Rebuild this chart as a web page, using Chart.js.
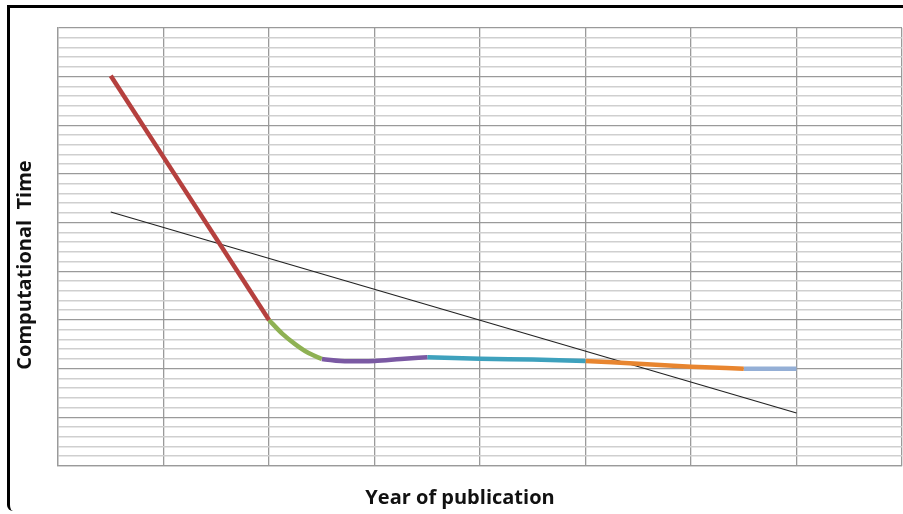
<!DOCTYPE html>
<html>
  <head>
    <meta charset="utf-8">
    <title>Computational Time by Year of publication</title>
    <script src="https://cdn.jsdelivr.net/npm/chart.js"></script>
    <style>
      html, body {
        margin: 0;
        padding: 0;
        background: #fff;
      }
      #frame {
        position: absolute;
        left: 7px;
        top: 4.5px;
        width: 896px;
        height: 503px;
        border-top: 3px solid #000;
        border-left: 3.5px solid #000;
        border-bottom-left-radius: 6px;
      }
      #wrap {
        position: absolute;
        left: 0;
        top: 0;
        width: 903px;
        height: 514px;
      }
    </style>
  </head>
  <body>
    <div id="frame"></div>
    <div id="wrap"><canvas id="timeChart"></canvas></div>
    <script>
      // x = position along the publication axis, y = computational time (grid units)
      const redX = [0.5, 2];
      const redY = [40.1, 15.0];
      const greenX = [2, 2.125, 2.25, 2.375, 2.5];
      const greenY = [15.0, 13.6, 12.5, 11.6, 11.0];
      const purpleX = [2.5, 2.75, 3, 3.25, 3.5];
      const purpleY = [11.0, 10.75, 10.8, 11.0, 11.18];
      const tealX = [3.5, 4, 4.5, 5];
      const tealY = [11.18, 11.03, 10.93, 10.8];
      const orangeX = [5, 5.5, 6, 6.5];
      const orangeY = [10.8, 10.5, 10.2, 10.0];
      const blueX = [6.5, 7];
      const blueY = [10.0, 10.0];
      const trendX = [0.5, 7];
      const trendY = [26.1, 5.45];

      const xTitle = 'Year of publication';
      const yTitle = 'Computational  Time';

      function pts(xs, ys) {
        return xs.map((x, i) => ({x: x, y: ys[i]}));
      }

      function segment(xs, ys, color) {
        return {
          data: pts(xs, ys),
          borderColor: color,
          borderWidth: 4.5,
          pointRadius: 0,
          cubicInterpolationMode: 'monotone',
          borderCapStyle: 'butt'
        };
      }

      // axis titles sit a little off-centre in the original, so draw them by hand
      const axisTitles = {
        id: 'axisTitles',
        afterDraw(chart) {
          const c = chart.ctx;
          c.save();
          c.fillStyle = '#111';
          c.font = 'bold 20px "Open Sans"';
          c.textAlign = 'center';
          c.textBaseline = 'middle';
          c.fillText(xTitle, 460, 498);
          c.translate(25, 265);
          c.rotate(-Math.PI / 2);
          c.fillText(yTitle, 0, 0);
          c.restore();
        }
      };

      const ctx = document.getElementById('timeChart');
      new Chart(ctx, {
        type: 'line',
        data: {
          datasets: [
            segment(redX, redY, '#b5403e'),
            segment(greenX, greenY, '#8eb153'),
            segment(purpleX, purpleY, '#7a59a3'),
            segment(tealX, tealY, '#3ea1bd'),
            segment(orangeX, orangeY, '#e8852f'),
            segment(blueX, blueY, '#94afd6'),
            {
              data: pts(trendX, trendY),
              borderColor: '#222',
              borderWidth: 1.2,
              pointRadius: 0
            }
          ]
        },
        plugins: [axisTitles],
        options: {
          responsive: true,
          maintainAspectRatio: false,
          animation: false,
          layout: {
            padding: {top: 28, right: 1, bottom: 48, left: 58}
          },
          plugins: {
            legend: {display: false},
            tooltip: {enabled: false}
          },
          scales: {
            x: {
              type: 'linear',
              min: 0,
              max: 8,
              ticks: {display: false, stepSize: 1},
              grid: {color: '#9a9a9a', lineWidth: 1.3, drawTicks: false},
              border: {color: '#9a9a9a', width: 1.3}
            },
            y: {
              type: 'linear',
              min: 0,
              max: 45,
              ticks: {display: false, stepSize: 1},
              grid: {
                drawTicks: false,
                color: (c) => c.tick.value % 5 === 0 ? '#9a9a9a' : '#cfcfcf',
                lineWidth: (c) => c.tick.value % 5 === 0 ? 1.3 : 1.6
              },
              border: {color: '#9a9a9a', width: 1.3}
            }
          }
        }
      });
    </script>
  </body>
</html>
